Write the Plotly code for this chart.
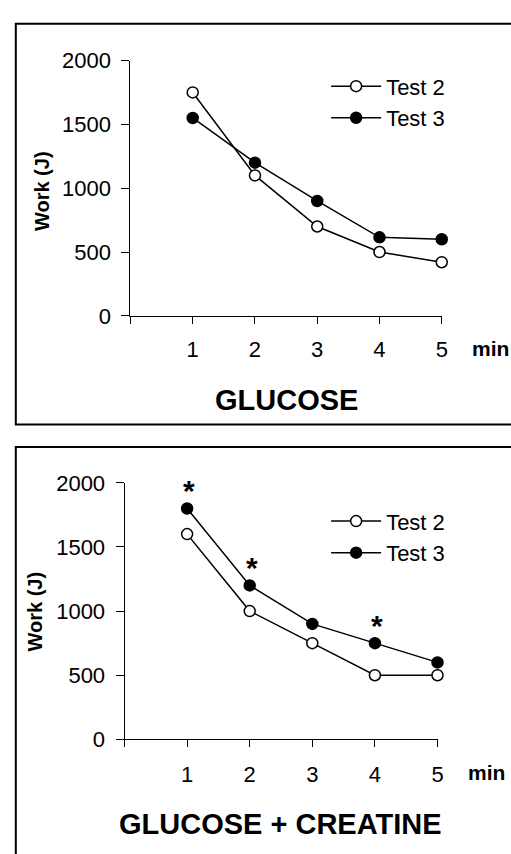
import plotly.graph_objects as go

minutes = [1, 2, 3, 4, 5]
x_ticks = [0, 1, 2, 3, 4, 5]
x_ticktext = ["", "1", "2", "3", "4", "5"]
y_ticks = [0, 500, 1000, 1500, 2000]

glucose_test2 = [1750, 1100, 700, 500, 420]
glucose_test3 = [1550, 1200, 900, 615, 600]
creatine_test2 = [1600, 1000, 750, 500, 500]
creatine_test3 = [1800, 1200, 900, 750, 600]
significant_minutes = [1, 2, 4]

panel_titles = ["GLUCOSE", "GLUCOSE + CREATINE"]
series_names = ["Test 2", "Test 3"]

W, H = 511, 854
FONT = "Arial, Liberation Sans, sans-serif"

fig = go.Figure()

def px_x(p):
    return p / W

def px_y(p):
    return 1 - p / H

panels = [
    dict(xa="x", ya="y", legend="legend", t2=glucose_test2, t3=glucose_test3),
    dict(xa="x2", ya="y2", legend="legend2", t2=creatine_test2, t3=creatine_test3),
]

for i, p in enumerate(panels):
    fig.add_trace(go.Scatter(
        x=minutes, y=p["t2"], name=series_names[0], mode="lines+markers",
        xaxis=p["xa"], yaxis=p["ya"], legend=p["legend"], legendgroup=f"a{i}",
        cliponaxis=False,
        line=dict(color="black", width=1.5),
        marker=dict(symbol="circle", size=11, color="white", line=dict(color="black", width=1.5)),
    ))
    fig.add_trace(go.Scatter(
        x=minutes, y=p["t3"], name=series_names[1], mode="lines+markers",
        xaxis=p["xa"], yaxis=p["ya"], legend=p["legend"], legendgroup=f"b{i}",
        cliponaxis=False,
        line=dict(color="black", width=1.5),
        marker=dict(symbol="circle", size=11, color="black", line=dict(color="black", width=1.5)),
    ))

axis_common = dict(
    showgrid=False, zeroline=False, showline=True, linecolor="black", linewidth=1,
    ticks="outside", tickcolor="black", tickwidth=1,
    tickfont=dict(family=FONT, size=22, color="black"),
)

fig.update_layout(
    xaxis=dict(domain=[px_x(132), px_x(447)], range=[0, 5], tickvals=x_ticks, ticktext=x_ticktext,
               ticklen=7, ticklabelstandoff=7, anchor="y", **axis_common),
    yaxis=dict(domain=[px_y(313), px_y(50)], range=[0, 2000], tickvals=y_ticks,
               ticklen=8, ticklabelstandoff=6, anchor="x", **axis_common),
    xaxis2=dict(domain=[px_x(126), px_x(442.7)], range=[0, 5], tickvals=x_ticks, ticktext=x_ticktext,
                ticklen=7, ticklabelstandoff=8, anchor="y2", **axis_common),
    yaxis2=dict(domain=[px_y(749.3), px_y(485)], range=[0, 2000], tickvals=y_ticks,
                ticklen=8, ticklabelstandoff=6, anchor="x2", **axis_common),
)

legend_common = dict(
    font=dict(family=FONT, size=22, color="black"), bgcolor="rgba(0,0,0,0)",
    tracegroupgap=0, itemwidth=50, xanchor="left", yanchor="top",
)
fig.update_layout(
    legend=dict(x=px_x(330), y=px_y(55), **legend_common),
    legend2=dict(x=px_x(330), y=px_y(503), **legend_common),
)

annotations = []
title_pos = [(290, 400), (284, 837)]
ylab_pos = [(42, 185), (35, 618)]
for i, p in enumerate(panels):
    tx, ty = title_pos[i]
    annotations.append(dict(text=f"<b>{panel_titles[i]}</b>", xref="paper", yref="paper",
                            x=px_x(tx), y=px_y(ty), xanchor="center", yanchor="middle",
                            showarrow=False, font=dict(family=FONT, size=29, color="black")))
    lx, ly = ylab_pos[i]
    annotations.append(dict(text="<b>Work (J)</b>", xref="paper", yref="paper",
                            x=px_x(lx), y=px_y(ly), xanchor="center", yanchor="middle",
                            textangle=-90, showarrow=False,
                            font=dict(family=FONT, size=20, color="black")))
    annotations.append(dict(text="<b>min</b>", xref=p["xa"], yref=p["ya"], x=5, y=0,
                            xanchor="left", yanchor="middle", xshift=28, yshift=-33,
                            showarrow=False, font=dict(family=FONT, size=21, color="black")))

for m in significant_minutes:
    idx = minutes.index(m)
    annotations.append(dict(text="<b>*</b>", xref="x2", yref="y2", x=m, y=creatine_test3[idx],
                            xanchor="center", yanchor="middle", xshift=2, yshift=18,
                            showarrow=False, font=dict(family=FONT, size=30, color="black")))

fig.update_layout(annotations=annotations)

fig.update_layout(shapes=[
    dict(type="rect", xref="paper", yref="paper", x0=px_x(16), x1=1.02, y0=px_y(425), y1=px_y(12),
         line=dict(color="black", width=2), fillcolor="rgba(0,0,0,0)"),
    dict(type="rect", xref="paper", yref="paper", x0=px_x(16), x1=1.02, y0=-0.02, y1=px_y(448),
         line=dict(color="black", width=2), fillcolor="rgba(0,0,0,0)"),
])

fig.update_layout(
    width=W, height=H, margin=dict(l=0, r=0, t=0, b=0),
    paper_bgcolor="white", plot_bgcolor="white", showlegend=True,
)

fig.write_html("out.html")
